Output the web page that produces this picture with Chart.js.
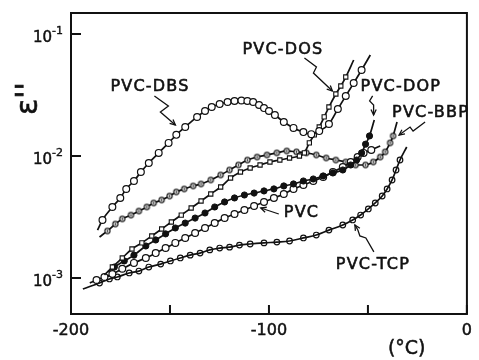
<!DOCTYPE html>
<html><head><meta charset="utf-8">
<script src="https://cdn.jsdelivr.net/npm/chart.js@4.4.0/dist/chart.umd.min.js"></script>
<style>html,body{margin:0;padding:0;background:#fff;}canvas{display:block;}</style>
</head><body>
<canvas id="c" width="479" height="360"></canvas>
<script>
// ---- axis ticks ----
const xTickValues = [-200, -150, -100, -50, 0];
const xTickLabels = ['-200', '', '-100', '', '0'];
const yTickValues = [1e-3, 1e-2, 1e-1];
const yTickExponents = ['-3', '-2', '-1'];

// ---- series: temperature (°C) and epsilon'' ----
const dbsT = [-186.6,-184.1,-179.1,-175.1,-172.1,-168.2,-164.7,-160.7,-155.7,-150.7,-146.8,-142.3,-136.3,-132.3,-128.9,-124.9,-120.9,-117.4,-113.9,-110.9,-108.0,-105.0,-102.5,-100.0,-97.0,-92.5,-87.6,-82.6,-78.6,-74.6,-69.7,-65.2,-61.2,-57.2,-53.2,-48.8];
const dbsE = [0.00247,0.00299,0.00382,0.00453,0.00537,0.00624,0.00739,0.00877,0.0106,0.0128,0.0149,0.0173,0.0209,0.0234,0.0252,0.0267,0.0277,0.0282,0.0285,0.0282,0.0277,0.0262,0.0247,0.0234,0.0217,0.0190,0.0170,0.0157,0.0151,0.0160,0.0183,0.0243,0.0310,0.0396,0.0507,0.0673];

const dosT = [-183.1,-179.1,-174.1,-169.2,-164.2,-159.2,-154.2,-149.3,-144.3,-139.3,-134.3,-129.4,-124.4,-119.4,-114.4,-109.5,-104.5,-99.5,-94.5,-89.6,-84.6,-82.1,-79.6,-77.1,-74.6,-72.1,-69.7,-66.2,-63.7,-61.2,-57.2];
const dosE = [0.00106,0.00123,0.00146,0.00173,0.00194,0.00221,0.00252,0.00288,0.00328,0.00375,0.00428,0.00488,0.00557,0.00660,0.00739,0.00798,0.00844,0.00893,0.00927,0.00963,0.0100,0.0106,0.0128,0.0149,0.0173,0.0209,0.0252,0.0322,0.0375,0.0444,0.0612];

const dopT = [-181.6,-178.1,-173.1,-168.2,-162.2,-157.2,-152.2,-147.3,-142.3,-137.3,-132.3,-127.4,-122.4,-117.4,-112.4,-107.5,-102.5,-97.5,-92.5,-87.6,-82.6,-77.6,-72.6,-67.7,-62.7,-58.7,-55.7,-53.2,-51.2,-49.2,-46.8];
const dopE = [0.00112,0.00123,0.00138,0.00154,0.00183,0.00205,0.00230,0.00257,0.00282,0.00310,0.00341,0.00382,0.00420,0.00453,0.00479,0.00497,0.00517,0.00537,0.00568,0.00590,0.00624,0.00648,0.00686,0.00726,0.00768,0.00844,0.00927,0.0106,0.0125,0.0146,0.0197];

const pvcT = [-190.5,-187.1,-183.1,-179.1,-174.1,-168.2,-162.2,-157.2,-152.2,-147.3,-142.3,-137.3,-132.3,-127.4,-122.4,-117.4,-112.4,-107.5,-102.5,-97.5,-92.5,-87.6,-82.6,-77.6,-72.6,-67.7,-62.7,-58.7,-55.2,-52.2,-48.3,-43.8];
const pvcE = [0.000910,0.000964,0.00102,0.00108,0.00119,0.00133,0.00146,0.00160,0.00176,0.00194,0.00213,0.00234,0.00257,0.00282,0.00310,0.00335,0.00361,0.00389,0.00420,0.00453,0.00488,0.00537,0.00578,0.00624,0.00673,0.00739,0.00813,0.00893,0.00981,0.0106,0.0112,0.0121];

const bbpT = [-185.6,-181.6,-177.6,-174.1,-169.7,-165.7,-161.7,-158.2,-154.2,-150.2,-146.8,-142.8,-138.3,-134.3,-129.4,-124.4,-119.9,-115.4,-110.9,-106.0,-101.0,-96.0,-91.0,-86.1,-81.1,-76.1,-71.1,-66.2,-61.2,-56.2,-51.2,-47.3,-43.8,-41.3,-38.8,-37.3,-35.3];
const bbpE = [0.00217,0.00243,0.00277,0.00305,0.00328,0.00354,0.00382,0.00412,0.00436,0.00470,0.00507,0.00537,0.00568,0.00590,0.00636,0.00699,0.00768,0.00844,0.00927,0.00981,0.0102,0.0106,0.0110,0.0108,0.0106,0.0102,0.00963,0.00927,0.00893,0.00844,0.00844,0.00893,0.00981,0.0108,0.0128,0.0146,0.0190];

const tcpT = [-194.0,-185.6,-180.6,-176.6,-170.6,-165.7,-160.7,-154.7,-149.8,-144.8,-139.8,-134.8,-129.9,-124.9,-119.9,-114.9,-109.5,-102.5,-96.0,-89.6,-82.6,-76.1,-69.7,-62.7,-57.7,-53.7,-49.8,-46.3,-42.8,-40.3,-37.8,-35.8,-33.8,-30.4];
const tcpE = [0.000813,0.000910,0.000982,0.00102,0.00110,0.00114,0.00123,0.00130,0.00138,0.00146,0.00154,0.00160,0.00170,0.00176,0.00179,0.00186,0.00190,0.00194,0.00197,0.00201,0.00213,0.00225,0.00247,0.00272,0.00299,0.00328,0.00368,0.00412,0.00470,0.00537,0.00636,0.00768,0.00927,0.01185];

const seriesNames = ['PVC-DBS','PVC-DOS','PVC-DOP','PVC','PVC-BBP','PVC-TCP'];

// ---- styling ----
const INK = '#111';
function ringImage(r, dot) {
  const s = Math.ceil(2 * r + 3);
  const c = document.createElement('canvas');
  c.width = c.height = s;
  const g = c.getContext('2d');
  g.beginPath(); g.arc(s / 2, s / 2, r, 0, 2 * Math.PI);
  g.fillStyle = '#fff'; g.fill();
  g.lineWidth = 1.1; g.strokeStyle = INK; g.stroke();
  if (dot) { g.beginPath(); g.arc(s / 2, s / 2, 0.9, 0, 2 * Math.PI); g.fillStyle = INK; g.fill(); }
  return c;
}
const dotRing = ringImage(2.6, true);

function makeSet(label, T, E, st) {
  const n = T.length;
  return {
    label,
    data: T.map((t, i) => ({ x: t, y: E[i] })),
    showLine: true,
    borderColor: INK,
    borderWidth: 1.7,
    cubicInterpolationMode: 'monotone',
    pointStyle: st.style,
    pointRadius: ctx => (ctx.dataIndex === 0 || ctx.dataIndex === n - 1) ? 0 : st.r,
    pointBackgroundColor: st.fill,
    pointBorderColor: INK,
    pointBorderWidth: st.bw,
    pointHoverRadius: 0
  };
}

const datasets = [
  makeSet(seriesNames[0], dbsT, dbsE, { style: 'circle', r: 3.4, fill: '#fff', bw: 1.2 }),
  makeSet(seriesNames[1], dosT, dosE, { style: 'rect', r: 3.0, fill: '#fff', bw: 1.1 }),
  makeSet(seriesNames[2], dopT, dopE, { style: 'circle', r: 3.1, fill: INK, bw: 1 }),
  makeSet(seriesNames[3], pvcT, pvcE, { style: 'circle', r: 3.4, fill: '#fff', bw: 1.2 }),
  makeSet(seriesNames[4], bbpT, bbpE, { style: dotRing, r: 2.6, fill: '#fff', bw: 1.1 }),
  makeSet(seriesNames[5], tcpT, tcpE, { style: 'circle', r: 2.8, fill: 'rgba(255,255,255,0)', bw: 1.2 })
];

// label annotations: anchor in data coords, arrow path in pixel offsets from anchor
const notes = [
  { text: 'PVC-DBS', t: -180.1, v: 0.0368, path: [[44, 9], [58, 19], [50, 25], [65, 38]] },
  { text: 'PVC-DOS', t: -113.4, v: 0.0739, path: [[62, 8], [74, 17], [71, 23], [90, 41]] },
  { text: 'PVC-DOP', t: -53.7, v: 0.0368, path: [[12, 9], [9, 14], [13, 18], [13, 28]] },
  { text: 'PVC-BBP', t: -37.8, v: 0.0225, path: [[33, 9], [21, 18], [18, 14], [7, 22]] },
  { text: 'PVC', t: -92.5, v: 0.00341, path: [[-5, 1], [-23, -5]] },
  { text: 'PVC-TCP', t: -66.2, v: 0.00128, path: [[38, -13], [30, -27], [24, -29], [22, -35], [19, -40]] }
];

function boldText(ctx, s, x, y, w) {
  ctx.fillText(s, x, y);
  ctx.save(); ctx.lineWidth = w; ctx.strokeText(s, x, y); ctx.restore();
}

const decor = {
  id: 'decor',
  afterDraw(chart) {
    const ctx = chart.ctx;
    const a = chart.chartArea;
    const xs = chart.scales.x, ys = chart.scales.y;
    ctx.save();
    ctx.strokeStyle = INK; ctx.fillStyle = INK;
    // frame
    ctx.lineWidth = 2;
    ctx.strokeRect(a.left, a.top, a.right - a.left, a.bottom - a.top);
    // inner ticks
    ctx.beginPath();
    xTickValues.forEach(v => { const p = xs.getPixelForValue(v); ctx.moveTo(p, a.bottom); ctx.lineTo(p, a.bottom - 9); });
    yTickValues.forEach(v => { const p = ys.getPixelForValue(v); ctx.moveTo(a.left, p); ctx.lineTo(a.left + 10, p); });
    ctx.stroke();
    // y tick labels with superscripts
    yTickValues.forEach((v, i) => {
      const p = ys.getPixelForValue(v);
      ctx.font = '15px "DejaVu Sans"'; ctx.textAlign = 'right'; ctx.textBaseline = 'middle';
      boldText(ctx, '10', a.left - 19, p + 4, 0.5);
      ctx.font = '11px "DejaVu Sans"'; ctx.textAlign = 'left';
      boldText(ctx, yTickExponents[i], a.left - 19, p - 3, 0.4);
    });
    // y title
    ctx.save();
    ctx.translate(a.left - 34, ys.getPixelForValue(0.0217));
    ctx.rotate(-Math.PI / 2);
    ctx.font = '30px "DejaVu Sans"'; ctx.textAlign = 'left'; ctx.textBaseline = 'alphabetic';
    boldText(ctx, "\u03B5''", 0, 0, 0.6);
    ctx.restore();
    // x unit
    ctx.font = '19px "DejaVu Sans"'; ctx.textAlign = 'center'; ctx.textBaseline = 'middle';
    boldText(ctx, '(\u00B0C)', xs.getPixelForValue(-30.4), chart.height - 11, 0.5);
    // annotations
    ctx.font = '16px "DejaVu Sans"'; ctx.textAlign = 'left'; ctx.textBaseline = 'middle';
    ctx.letterSpacing = '1.2px';
    notes.forEach(n => {
      const x0 = xs.getPixelForValue(n.t), y0 = ys.getPixelForValue(n.v);
      boldText(ctx, n.text, x0, y0, 0.6);
      ctx.lineWidth = 1.3;
      ctx.beginPath();
      n.path.forEach((d, i) => { const px = x0 + d[0], py = y0 + d[1]; if (i === 0) ctx.moveTo(px, py); else ctx.lineTo(px, py); });
      ctx.stroke();
      const L = n.path.length, e = n.path[L - 1], pr = n.path[L - 2];
      const ang = Math.atan2(e[1] - pr[1], e[0] - pr[0]);
      const ex = x0 + e[0], ey = y0 + e[1];
      ctx.beginPath();
      ctx.moveTo(ex - 6 * Math.cos(ang - 0.45), ey - 6 * Math.sin(ang - 0.45));
      ctx.lineTo(ex, ey);
      ctx.lineTo(ex - 6 * Math.cos(ang + 0.45), ey - 6 * Math.sin(ang + 0.45));
      ctx.stroke();
    });
    ctx.letterSpacing = '0px';
    ctx.restore();
  }
};

Chart.defaults.color = INK;
new Chart(document.getElementById('c'), {
  type: 'scatter',
  data: { datasets },
  options: {
    responsive: false,
    animation: false,
    devicePixelRatio: 1,
    layout: { padding: { top: 13, right: 6, left: 0, bottom: 0 } },
    plugins: { legend: { display: false }, tooltip: { enabled: false } },
    scales: {
      x: {
        type: 'linear', min: -200, max: 0,
        grid: { display: false, drawTicks: false },
        border: { display: false },
        afterBuildTicks: s => { s.ticks = xTickValues.map(v => ({ value: v })); },
        afterFit: s => { s.height = 46; },
        ticks: {
          autoSkip: false, maxRotation: 0, padding: 7,
          font: { family: 'DejaVu Sans', size: 16 }, color: INK,
          textStrokeColor: INK, textStrokeWidth: 0.5,
          callback: (v, i) => xTickLabels[i]
        }
      },
      y: {
        type: 'logarithmic', min: 5.07e-4, max: 0.1486,
        grid: { display: false, drawTicks: false },
        border: { display: false },
        ticks: { display: false },
        afterFit: s => { s.width = 71; }
      }
    }
  },
  plugins: [decor]
});
</script>
</body></html>
